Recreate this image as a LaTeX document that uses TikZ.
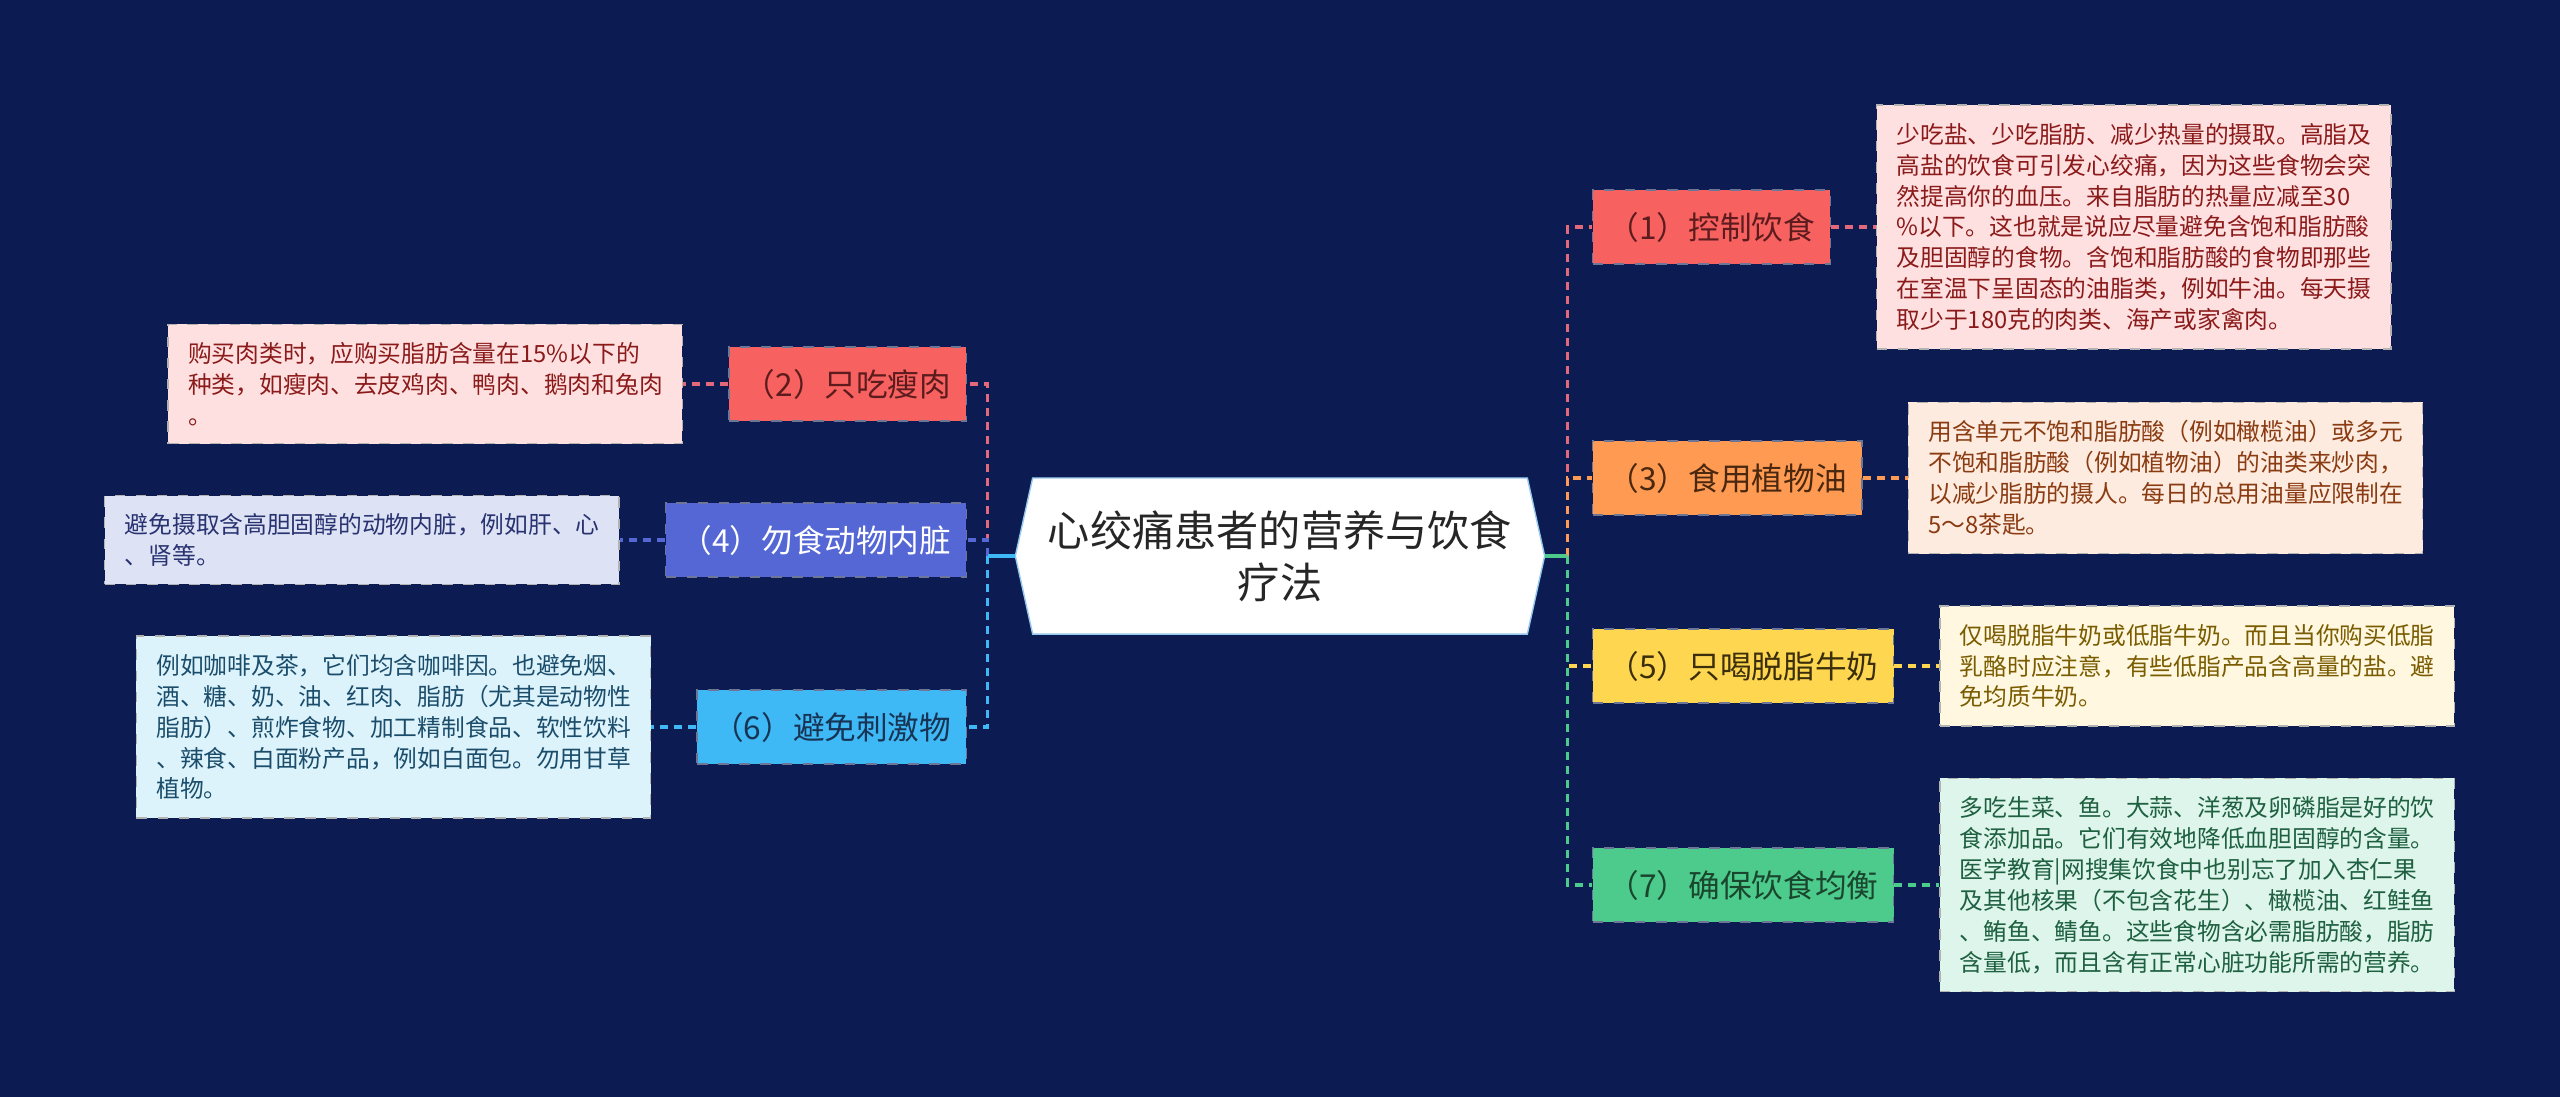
\documentclass[tikz,border=0pt]{standalone}
\usepackage{fontspec}
\setmainfont{Noto Sans CJK SC}
\usepackage{tikz}
\usetikzlibrary{positioning, shapes.symbols}
\definecolor{bgnavy}{RGB}{12,27,82}
\definecolor{hubline}{RGB}{150,200,235}
\definecolor{redfill}{RGB}{247,97,95}
\definecolor{redline}{RGB}{226,104,122}
\definecolor{redtext}{RGB}{92,28,30}
\definecolor{orangefill}{RGB}{255,154,82}
\definecolor{orangetext}{RGB}{74,40,16}
\definecolor{yellowfill}{RGB}{255,214,79}
\definecolor{yellowtext}{RGB}{58,46,12}
\definecolor{greenfill}{RGB}{76,203,140}
\definecolor{greentext}{RGB}{26,70,46}
\definecolor{bluefill}{RGB}{85,103,213}
\definecolor{skyfill}{RGB}{62,185,245}
\definecolor{skytext}{RGB}{24,52,84}
\definecolor{pinknote}{RGB}{255,224,224}
\definecolor{pinkink}{RGB}{139,26,26}
\definecolor{peachnote}{RGB}{253,235,223}
\definecolor{peachink}{RGB}{138,59,18}
\definecolor{creamnote}{RGB}{255,247,223}
\definecolor{creamink}{RGB}{122,92,0}
\definecolor{mintnote}{RGB}{221,245,234}
\definecolor{mintink}{RGB}{30,96,64}
\definecolor{lavnote}{RGB}{221,227,245}
\definecolor{lavink}{RGB}{40,50,112}
\definecolor{skynote}{RGB}{220,243,252}
\definecolor{skyink}{RGB}{27,77,107}
\tikzset{
    hub/.style={signal, signal to=west and east, signal pointer angle=155, fill=white, draw=hubline, thin, minimum width=5.29cm, minimum height=1.56cm, align=center, text=black!85, font=\fontsize{12pt}{14.8pt}\selectfont},
    topic/.style={draw=bgnavy!60, dashed, minimum height=0.74cm, inner xsep=0.15cm, inner ysep=0pt, font=\fontsize{9pt}{11pt}\selectfont},
    note/.style={draw=gray!60, dashed, text width=4.74cm, align=left, inner xsep=0.2cm, inner ysep=0.18cm, font=\fontsize{6.75pt}{8.8pt}\selectfont},
    link/.style={line width=1pt, dash pattern=on 0.08cm off 0.06cm},
    stub/.style={line width=1pt}
}

\begin{document}
\begin{tikzpicture}[x=0.01cm, y=-0.01cm]
    \fill[bgnavy] (0,0) rectangle (2560,1097);
    \useasboundingbox (0,0) rectangle (2560,1097);
    \node[hub] (ctr) at (1280,556) {心绞痛患者的营养与饮食\\疗法};
    \node[topic, fill=redfill, text=redtext, anchor=west] (t1) at (1592,227) {（1）控制饮食};
    \node[topic, fill=orangefill, text=orangetext, anchor=west] (t3) at (1592,478) {（3）食用植物油};
    \node[topic, fill=yellowfill, text=yellowtext, anchor=west] (t5) at (1592,666) {（5）只喝脱脂牛奶};
    \node[topic, fill=greenfill, text=greentext, anchor=west] (t7) at (1592,885) {（7）确保饮食均衡};
    \node[topic, fill=redfill, text=redtext, anchor=east] (t2) at (967,384) {（2）只吃瘦肉};
    \node[topic, fill=bluefill, text=white, anchor=east] (t4) at (967,540) {（4）勿食动物内脏};
    \node[topic, fill=skyfill, text=skytext, anchor=east] (t6) at (967,727) {（6）避免刺激物};
    \node[note, fill=pinknote, text=pinkink, right=0.45cm of t1] (n1) {少吃盐、少吃脂肪、减少热量的摄取。高脂及\\高盐的饮食可引发心绞痛，因为这些食物会突\\然提高你的血压。来自脂肪的热量应减至30\\\%以下。这也就是说应尽量避免含饱和脂肪酸\\及胆固醇的食物。含饱和脂肪酸的食物即那些\\在室温下呈固态的油脂类，例如牛油。每天摄\\取少于180克的肉类、海产或家禽肉。};
    \node[note, fill=peachnote, text=peachink, right=0.45cm of t3] (n3) {用含单元不饱和脂肪酸（例如橄榄油）或多元\\不饱和脂肪酸（例如植物油）的油类来炒肉，\\以减少脂肪的摄人。每日的总用油量应限制在\\5～8茶匙。};
    \node[note, fill=creamnote, text=creamink, right=0.45cm of t5] (n5) {仅喝脱脂牛奶或低脂牛奶。而且当你购买低脂\\乳酪时应注意，有些低脂产品含高量的盐。避\\免均质牛奶。};
    \node[note, fill=mintnote, text=mintink, right=0.45cm of t7] (n7) {多吃生菜、鱼。大蒜、洋葱及卵磷脂是好的饮\\食添加品。它们有效地降低血胆固醇的含量。\\医学教育|网搜集饮食中也别忘了加入杏仁果\\及其他核果（不包含花生）、橄榄油、红鲑鱼\\、鲔鱼、鲭鱼。这些食物含必需脂肪酸，脂肪\\含量低，而且含有正常心脏功能所需的营养。};
    \node[note, fill=pinknote, text=pinkink, left=0.45cm of t2] (n2) {购买肉类时，应购买脂肪含量在15\%以下的\\种类，如瘦肉、去皮鸡肉、鸭肉、鹅肉和兔肉\\。};
    \node[note, fill=lavnote, text=lavink, left=0.45cm of t4] (n4) {避免摄取含高胆固醇的动物内脏，例如肝、心\\、肾等。};
    \node[note, fill=skynote, text=skyink, left=0.45cm of t6] (n6) {例如咖啡及茶，它们均含咖啡因。也避免烟、\\酒、糖、奶、油、红肉、脂肪（尤其是动物性\\脂肪）、煎炸食物、加工精制食品、软性饮料\\、辣食、白面粉产品，例如白面包。勿用甘草\\植物。};
    \coordinate (rb) at ([xshift=0.22cm]ctr.east);
    \coordinate (lb) at ([xshift=-0.27cm]ctr.west);
    \draw[link, redline] (rb) |- (t1.west);
    \draw[link, orangefill] (rb) |- (t3.west);
    \draw[link, yellowfill] (rb) |- (t5.west);
    \draw[link, greenfill] (rb) |- (t7.west);
    \draw[link, redline] (lb) |- (t2.east);
    \draw[link, bluefill] (lb) |- (t4.east);
    \draw[link, skyfill] (lb) |- (t6.east);
    \draw[stub, greenfill] (ctr.east) -- (rb);
    \draw[stub, skyfill] (ctr.west) -- (lb);
    \draw[link, redline] (t1) -- (n1);
    \draw[link, orangefill] (t3) -- (n3);
    \draw[link, yellowfill] (t5) -- (n5);
    \draw[link, greenfill] (t7) -- (n7);
    \draw[link, redline] (t2) -- (n2);
    \draw[link, bluefill] (t4) -- (n4);
    \draw[link, skyfill] (t6) -- (n6);
\end{tikzpicture}
\end{document}
